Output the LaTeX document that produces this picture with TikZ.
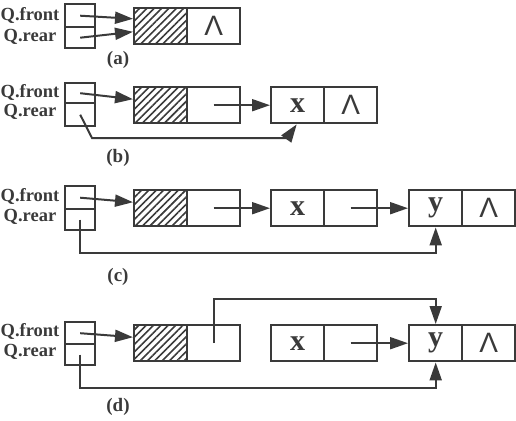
\documentclass[tikz,border=0pt]{standalone}
\usepackage{fontspec}
\setmainfont{Liberation Serif}
\newfontfamily\lamfont{Liberation Sans}
\usetikzlibrary{arrows.meta,patterns.meta,calc}
\definecolor{ink}{HTML}{3a3a3a}
\tikzset{
  cell/.style={draw=ink, line width=2.4pt, minimum width=53pt, minimum height=36pt,
    inner sep=0pt, anchor=north west, text=ink, font=\bfseries\fontsize{30}{30}\selectfont},
  hatch/.style={cell, pattern={Lines[angle=45,distance=5.2pt,line width=1.6pt]}, pattern color=ink},
  lam/.style={cell, font=\lamfont\fontsize{28}{28}\selectfont},
  pbox/.style={draw=ink, line width=2.4pt, minimum width=30pt, minimum height=22pt,
    inner sep=0pt, anchor=north west},
  qlab/.style={text=ink, font=\bfseries\fontsize{18.5}{18.5}\selectfont, inner sep=0pt},
  captxt/.style={text=ink, font=\bfseries\fontsize{19}{19}\selectfont, inner sep=0pt},
  arr/.style={draw=ink, line width=2pt, -{Triangle[length=18pt,width=12pt]}},
}
\begin{document}
\begin{tikzpicture}[x=1pt,y=-1pt]
\useasboundingbox (0,0) rectangle (516,420);

% ---------------- (a)
\node[pbox, minimum height=23pt] (aF) at (64,3) {};
\node[pbox, minimum height=21pt] (aR) at (64,26) {};
\node[qlab] (aQf) at (30,15) {Q.front};
\node[qlab] (aQr) at (30,37) {Q.rear};
\node[hatch] (a1d) at (133,7) {};
\node[lam] (a1p) at (186,7) {Λ};
\node[captxt] (acap) at (118,60) {(a)};
\draw[arr] (aF.center) -- ($(a1d.west)+(0,-7)$);
\draw[arr] (aR.center) -- ($(a1d.west)+(0,6)$);

% ---------------- (b)
\node[pbox, minimum height=20pt] (bF) at (64,82) {};
\node[pbox, minimum height=23pt] (bR) at (64,102) {};
\node[qlab] (bQf) at (30,92) {Q.front};
\node[qlab] (bQr) at (30,112) {Q.rear};
\node[hatch] (b1d) at (133,86) {};
\node[cell] (b1p) at (186,86) {};
\node[cell] (b2d) at (270,86) {x};
\node[lam] (b2p) at (323,86) {Λ};
\node[captxt] (bcap) at (118,158) {(b)};
\draw[arr] (bF.center) -- ($(b1d.west)+(0,-6)$);
\draw[arr] (b1p.center) -- (b2d.west);
\draw[arr] (bR.center) -- (92,138) -- (287,138) -- ($(b2d.south)+(-1,0)$);

% ---------------- (c)
\node[pbox, minimum height=23pt] (cF) at (64,185) {};
\node[pbox, minimum height=21pt] (cR) at (64,208) {};
\node[qlab] (cQf) at (30,196) {Q.front};
\node[qlab] (cQr) at (30,217) {Q.rear};
\node[hatch] (c1d) at (133,189) {};
\node[cell] (c1p) at (186,189) {};
\node[cell] (c2d) at (270,189) {x};
\node[cell] (c2p) at (323,189) {};
\node[cell] (c3d) at (408,189) {y};
\node[lam] (c3p) at (461,189) {Λ};
\node[captxt] (ccap) at (118,277) {(c)};
\draw[arr] (cF.center) -- ($(c1d.west)+(0,-6)$);
\draw[arr] (c1p.center) -- (c2d.west);
\draw[arr] (c2p.center) -- (c3d.west);
\draw[arr] (cR.center) |- ($(c3d.south)+(0,26)$) -- (c3d.south);

% ---------------- (d)
\node[pbox, minimum height=22pt] (dF) at (64,321) {};
\node[pbox, minimum height=21pt] (dR) at (64,343) {};
\node[qlab] (dQf) at (30,331) {Q.front};
\node[qlab] (dQr) at (30,352) {Q.rear};
\node[hatch] (d1d) at (133,324) {};
\node[cell] (d1p) at (186,324) {};
\node[cell] (d2d) at (270,324) {x};
\node[cell] (d2p) at (323,324) {};
\node[cell] (d3d) at (408,324) {y};
\node[lam] (d3p) at (461,324) {Λ};
\node[captxt] (dcap) at (118,407) {(d)};
\draw[arr] (dF.center) -- ($(d1d.west)+(0,-6)$);
\draw[arr] (d1p.center) |- ($(d3d.north)+(0,-25)$) -- (d3d.north);
\draw[arr] (d2p.center) -- (d3d.west);
\draw[arr] (dR.center) |- ($(d3d.south)+(0,26)$) -- (d3d.south);
\end{tikzpicture}
\end{document}
